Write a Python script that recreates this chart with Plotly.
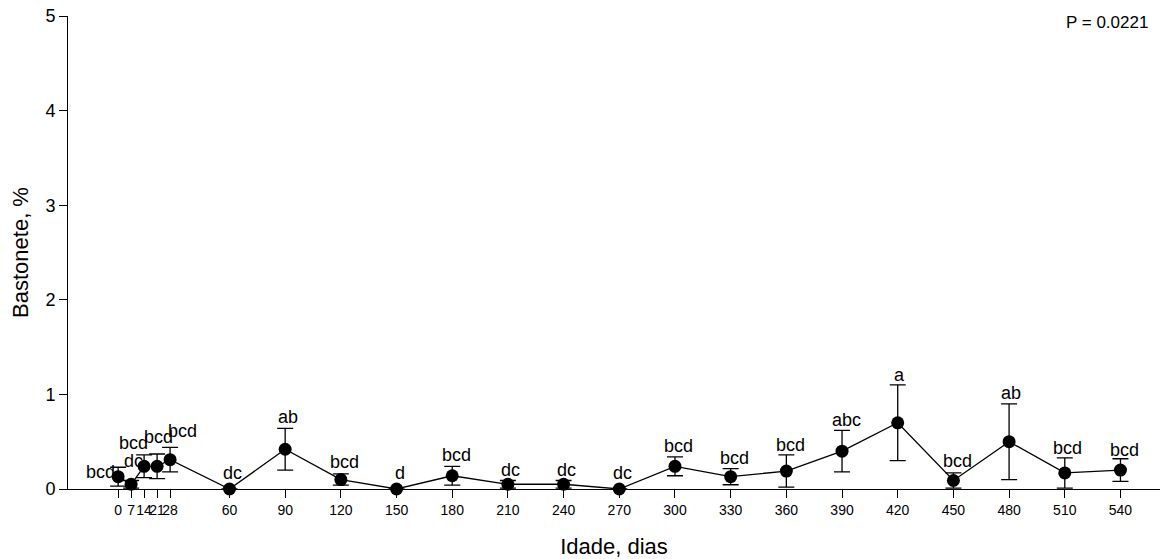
import plotly.graph_objects as go

days = [0, 7, 14, 21, 28, 60, 90, 120, 150, 180, 210, 240, 270, 300, 330, 360, 390, 420, 450, 480, 510, 540]
means = [0.13, 0.05, 0.24, 0.24, 0.31, 0.0, 0.42, 0.10, 0.0, 0.14, 0.05, 0.05, 0.0, 0.24, 0.13, 0.19, 0.40, 0.70, 0.09, 0.50, 0.17, 0.20]
errs = [0.10, 0.04, 0.12, 0.13, 0.13, 0.0, 0.22, 0.06, 0.0, 0.10, 0.04, 0.04, 0.0, 0.10, 0.085, 0.17, 0.22, 0.40, 0.08, 0.40, 0.16, 0.12]
letters = ["bcd", "dc", "bcd", "bcd", "bcd", "dc", "ab", "bcd", "d", "bcd", "dc", "dc", "dc", "bcd", "bcd", "bcd", "abc", "a", "bcd", "ab", "bcd", "bcd"]
# label offsets (pixels) – style only
lab_dx = [-18, 2, -11, 1, 12, 3, 3, 4, 3, 4, 3, 3, 3, 4, 4, 4, 4, 2, 4, 2, 3, 4]
lab_dy = [-5, 19, 12, 17, 16, 16, 11, 12, 16, 11, 10, 10, 16, 11, 11, 10, 10, 10, 12, 11, 10, 9]
ytick_vals = [0, 1, 2, 3, 4, 5]

FONT = "Liberation Sans, Arial, sans-serif"

fig = go.Figure()
fig.add_trace(go.Scatter(
    x=days, y=means, mode="lines+markers",
    line=dict(color="black", width=1.3),
    marker=dict(color="black", size=13),
    error_y=dict(type="data", array=errs, visible=True, color="black", thickness=1.3, width=8),
    cliponaxis=False, showlegend=False,
))

for d, m, e, t, dx, dy in zip(days, means, errs, letters, lab_dx, lab_dy):
    fig.add_annotation(x=d, y=m + e, text=t, showarrow=False, xanchor="center", yanchor="middle",
                       xshift=dx, yshift=dy, font=dict(family=FONT, size=18, color="black"))

fig.add_annotation(xref="paper", yref="paper", x=1, y=1, xanchor="right", yanchor="middle",
                   xshift=-10, yshift=-6, text="P = 0.0221", showarrow=False,
                   font=dict(family=FONT, size=17, color="black"))

fig.update_layout(
    width=1160, height=559,
    margin=dict(l=68, r=0, t=16, b=70),
    paper_bgcolor="white", plot_bgcolor="white",
    font=dict(family=FONT, color="black"),
    xaxis=dict(range=[-27, 561.3], tickvals=days, ticktext=[str(d) for d in days], tickangle=0,
               ticks="outside", ticklen=8, tickcolor="black", tickwidth=1,
               showline=True, linecolor="black", linewidth=1, showgrid=False, zeroline=False,
               tickfont=dict(family=FONT, size=14, color="black"),
               title=dict(text="Idade, dias", font=dict(family=FONT, size=22), standoff=22)),
    yaxis=dict(range=[0, 5], tickvals=ytick_vals, ticks="outside", ticklen=8, tickcolor="black", tickwidth=1,
               showline=True, linecolor="black", linewidth=1, showgrid=False, zeroline=False,
               tickfont=dict(family=FONT, size=18, color="black"),
               title=dict(text="Bastonete, %", font=dict(family=FONT, size=22), standoff=10)),
)

fig.write_html("out.html")
